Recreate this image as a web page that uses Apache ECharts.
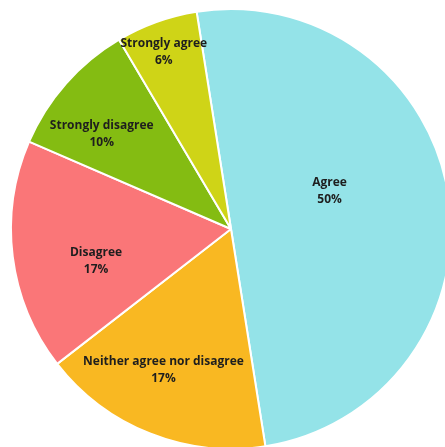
<!DOCTYPE html>
<html>
<head>
<meta charset="utf-8">
<script src="https://cdn.jsdelivr.net/npm/echarts@6/dist/echarts.min.js"></script>
<style>html,body{margin:0;padding:0;background:#fff;}#c{width:445px;height:447px;}</style>
</head>
<body>
<div id="c"></div>
<script>
const categories = ['Agree', 'Neither agree nor disagree', 'Disagree', 'Strongly disagree', 'Strongly agree'];
const values = [50, 17, 17, 10, 6];
const colors = ['#94E3E8', '#F9B822', '#FA7678', '#84BC12', '#CFD417'];
// label placement (fraction of radius, angular shift in degrees) - layout only
const labelRadius = [0.48, 0.71, 0.63, 0.73, 0.86];
const labelShift = [-12, 4, -6, -5, -1];

const CX = 231, CY = 229, R = 220, START = 99;
const total = values.reduce((a, b) => a + b, 0);

const chart = echarts.init(document.getElementById('c'), null, {renderer: 'canvas'});
chart.setOption({
  backgroundColor: '#fff',
  animation: false,
  series: [{
    type: 'pie',
    center: [CX, CY],
    radius: R,
    startAngle: START,
    clockwise: true,
    avoidLabelOverlap: false,
    itemStyle: {borderColor: '#fff', borderWidth: 2},
    label: {
      show: true,
      position: 'inside',
      formatter: p => p.name + '\n' + p.value + '%',
      fontFamily: 'Open Sans',
      fontWeight: 'bold',
      fontSize: 12,
      lineHeight: 17,
      color: '#1e1e1e',
      align: 'center'
    },
    labelLine: {show: false},
    labelLayout: function (params) {
      const i = params.dataIndex;
      let cum = 0;
      for (let k = 0; k < i; k++) cum += values[k];
      const midFrac = (cum + values[i] / 2) / total;
      const deg = (90 - START) + midFrac * 360 + labelShift[i]; // clockwise from top
      const rad = deg * Math.PI / 180;
      const r = R * labelRadius[i];
      return {x: CX + r * Math.sin(rad), y: CY - r * Math.cos(rad), align: 'center', verticalAlign: 'middle'};
    },
    data: categories.map((c, i) => ({name: c, value: values[i], itemStyle: {color: colors[i]}}))
  }]
});
</script>
</body>
</html>
